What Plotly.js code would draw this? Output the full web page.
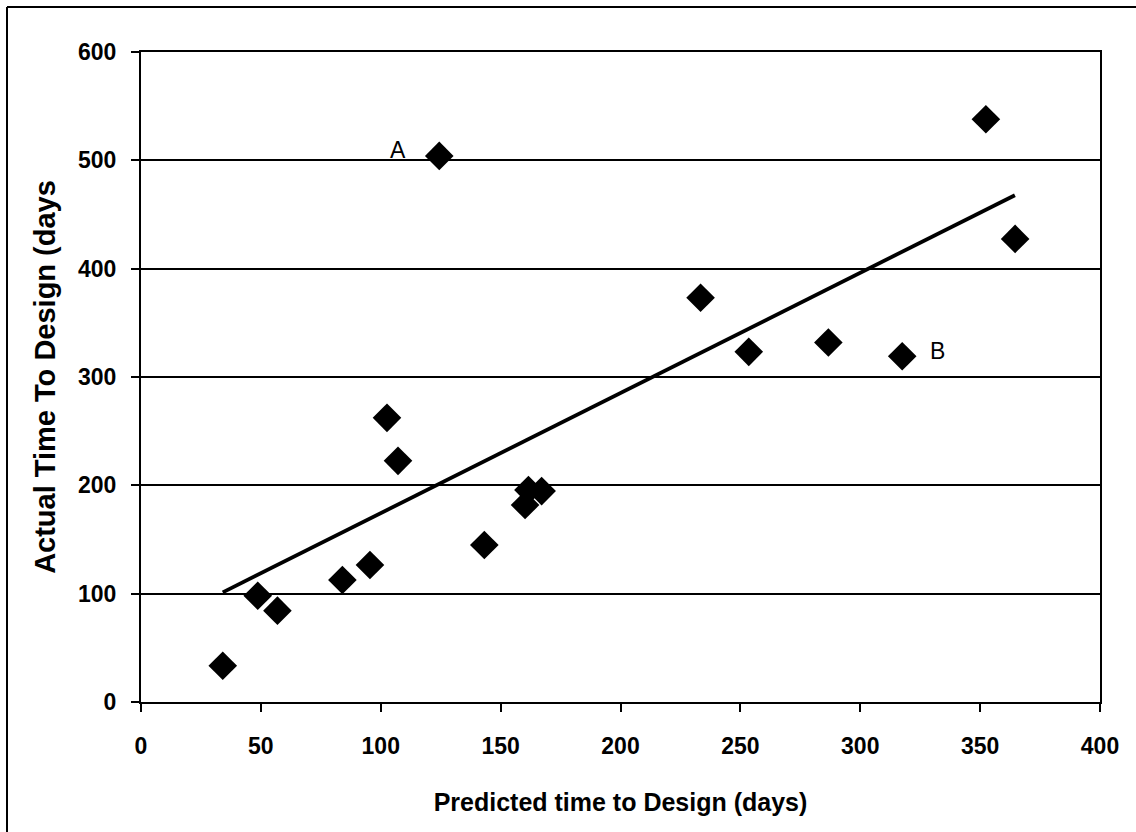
<!DOCTYPE html>
<html>
<head>
<meta charset="utf-8">
<script src="https://cdn.plot.ly/plotly-3.0.1.min.js"></script>
<style>
html,body{margin:0;padding:0;background:#fff;}
#chart{width:1136px;height:832px;}
</style>
</head>
<body>
<div id="chart"></div>
<script>
// Data
const predicted = [34.1, 48.7, 56.9, 84.0, 95.5, 102.6, 107.2, 124.4, 143.2, 160.2, 161.6, 167.1, 233.4, 253.5, 286.7, 317.5, 352.4, 364.6];
const actual    = [33.5, 98.1, 84.3, 112.6, 126.4, 262.3, 222.6, 504.1, 144.9, 181.8, 195.6, 194.7, 373.1, 323.2, 331.9, 319.2, 537.9, 427.5];
const trendX = [34.1, 364.5];
const trendY = [101.2, 467.8];
const labelText = ["A", "B"];
const labelX = [107.2, 332.4];
const labelY = [509.3, 323.9];
const xTicks = [0, 50, 100, 150, 200, 250, 300, 350, 400];
const yTicks = [0, 100, 200, 300, 400, 500, 600];

const FONT = "Liberation Sans, Arial, sans-serif";

const traces = [
  {
    x: predicted, y: actual, type: "scatter", mode: "markers",
    marker: {symbol: "diamond", size: 22, color: "#000", line: {width: 0}},
    hoverinfo: "x+y", showlegend: false
  },
  {
    x: trendX, y: trendY, type: "scatter", mode: "lines",
    line: {color: "#000", width: 3.8},
    hoverinfo: "skip", showlegend: false
  }
];

const annotations = labelText.map((t, i) => ({
  x: labelX[i], y: labelY[i], xref: "x", yref: "y", text: t, showarrow: false,
  font: {family: FONT, size: 23, color: "#000"}
}));

const layout = {
  width: 1136, height: 832,
  margin: {l: 141, r: 36, t: 52, b: 130},
  paper_bgcolor: "#fff", plot_bgcolor: "#fff",
  font: {family: FONT, color: "#000"},
  xaxis: {
    range: [0, 400], tickvals: xTicks, ticktext: xTicks.map(v => "<b>" + v + "</b>"),
    showgrid: false, zeroline: false,
    showline: true, linecolor: "#000", linewidth: 2, mirror: true,
    ticks: "outside", ticklen: 8, tickwidth: 2, tickcolor: "#000",
    ticklabelstandoff: 14,
    tickfont: {family: FONT, size: 23, color: "#000"},
    title: {text: "<b>Predicted time to Design (days)</b>", font: {family: FONT, size: 25, color: "#000"}, standoff: 36}
  },
  yaxis: {
    range: [0, 600], tickvals: yTicks, ticktext: yTicks.map(v => "<b>" + v + "</b>"),
    showgrid: true, gridcolor: "#000", gridwidth: 1.8, zeroline: false,
    showline: true, linecolor: "#000", linewidth: 2, mirror: true,
    ticks: "outside", ticklen: 8, tickwidth: 2, tickcolor: "#000",
    ticklabelstandoff: 10,
    tickfont: {family: FONT, size: 23, color: "#000"},
    title: {text: "<b>Actual Time To Design (days</b>", font: {family: FONT, size: 29, color: "#000"}, standoff: 14}
  },
  annotations: annotations,
  shapes: [
    {type: "line", xref: "paper", yref: "paper", x0: (7 - 141) / 959, x1: (7 - 141) / 959, y0: (702 - 7) / 650, y1: -0.3, line: {color: "#000", width: 2}},
    {type: "line", xref: "paper", yref: "paper", x0: (7 - 141) / 959, x1: 1.1, y0: (702 - 7) / 650, y1: (702 - 7) / 650, line: {color: "#000", width: 2}}
  ]
};

Plotly.newPlot("chart", traces, layout, {displayModeBar: false, staticPlot: true});
</script>
</body>
</html>
